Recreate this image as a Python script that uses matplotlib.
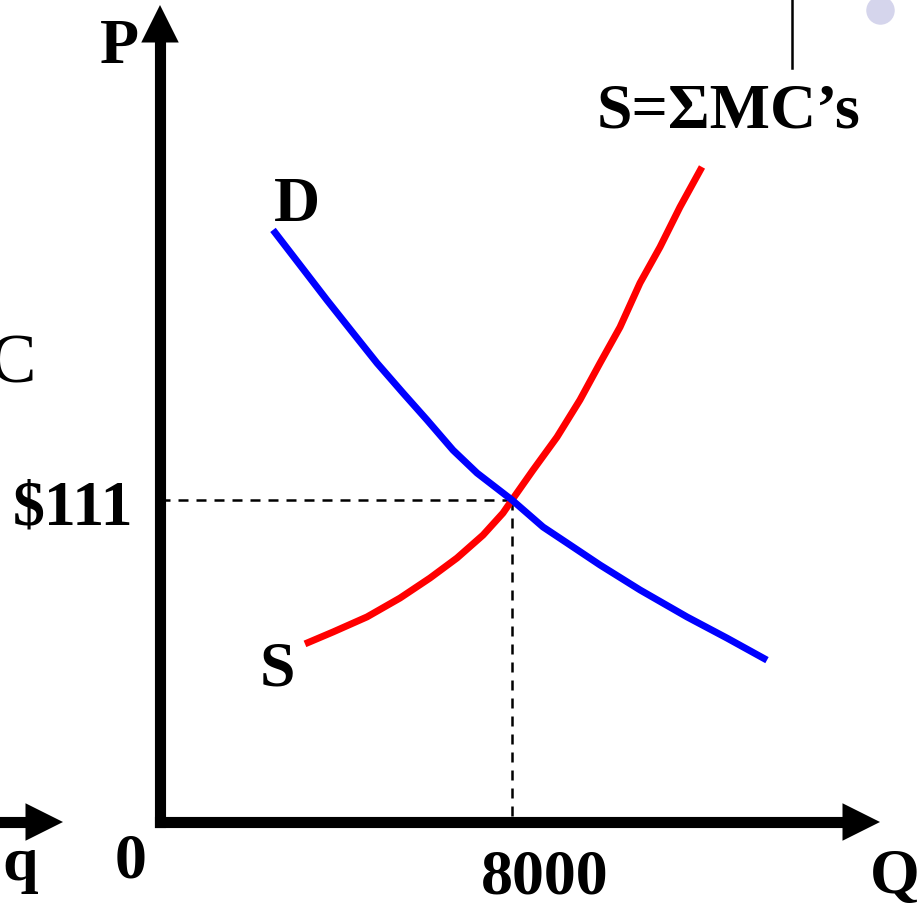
import numpy as np
import matplotlib.pyplot as plt

# Curvas de demanda y oferta (Q, P)
d_q = [2568, 3182, 3795, 4386, 4932, 5523, 6068, 6659, 7205, 8000,
       8705, 9250, 10000, 10909, 11977, 12886, 13795]
d_p = [204.1, 192.0, 179.9, 168.6, 158.2, 147.9, 138.6, 128.2, 120.3, 111.0,
       101.7, 96.2, 88.6, 80.0, 70.7, 63.4, 55.8]
s_q = [3295, 3932, 4705, 5455, 6136, 6750, 7341, 7795, 8000,
       8477, 9023, 9545, 10000, 10455, 10909, 11364, 11818, 12318]
s_p = [61.4, 65.5, 70.7, 77.2, 84.1, 91.0, 98.9, 106.5, 111.0,
       121.3, 132.7, 145.5, 158.2, 170.6, 185.8, 198.2, 212.0, 225.8]

q_eq = 8000
p_eq = 111
q_ticks = [0, q_eq]
q_labels = ["0", "8000"]
q_offsets = [(-29, -55), (33, -71)]  # pixeles

W, H = 923, 905
# escala: pixeles -> datos
QPX = 8000 / 352
PPX = 111 / 322
X0, Y0 = 160, 822


def px(x, y):
    return x / W, 1 - y / H


fig = plt.figure(figsize=(W / 100, H / 100), dpi=100)
ax = fig.add_axes([0, 0, 1, 1])
ax.set_xlim(-X0 * QPX, (W - X0) * QPX)
ax.set_ylim((Y0 - H) * PPX, Y0 * PPX)
ax.axis("off")

font = dict(family="Liberation Serif", fontweight="bold", fontsize=46)

# ejes con flechas
p_top = (Y0 - 5) * PPX
p_base = (Y0 - 42) * PPX
q_end = (880 - X0) * QPX
q_base = (844 - X0) * QPX
ax.plot([0, 0], [0, p_base], color="black", lw=8, solid_capstyle="projecting", zorder=5)
ax.plot([0, q_base], [0, 0], color="black", lw=8, solid_capstyle="projecting", zorder=5)
head = dict(arrowstyle="-|>,head_length=27,head_width=13.5", lw=0, fc="black",
            ec="black", mutation_scale=1, shrinkA=0, shrinkB=0)
ax.annotate("", xy=(0, p_top), xytext=(0, p_base - 10), arrowprops=head, zorder=6)
ax.annotate("", xy=(q_end, 0), xytext=(q_base - 500, 0), arrowprops=head, zorder=6)

# flecha del grafico de la izquierda (q)
ax.plot([-X0 * QPX, (28 - X0) * QPX], [0, 0], color="black", lw=8, zorder=5)
ax.annotate("", xy=((63 - X0) * QPX, 0), xytext=((20 - X0) * QPX, 0), arrowprops=head, zorder=6)

# lineas punteadas del equilibrio
ax.plot([0, q_eq], [p_eq, p_eq], color="black", lw=1.8, dashes=(4, 3.2), zorder=2)
ax.plot([q_eq, q_eq], [p_eq, 0], color="black", lw=1.8, dashes=(4, 3.2), zorder=2)

ax.plot(s_q, s_p, color="#ff0000", lw=5, solid_capstyle="butt",
        solid_joinstyle="round", zorder=3)
ax.plot(d_q, d_p, color="#0000ff", lw=5, solid_capstyle="butt",
        solid_joinstyle="round", zorder=4)

# textos
ax.text(*px(119, 63), "P", transform=ax.transAxes, ha="center", va="baseline", **font)
ax.text(*px(297, 221), "D", transform=ax.transAxes, ha="center", va="baseline", **font)
ax.text(*px(277, 686), "S", transform=ax.transAxes, ha="center", va="baseline", **font)
ax.text(*px(728, 127), "S=\u03a3MC\u2019s", transform=ax.transAxes, ha="center", va="baseline", **font)
ax.annotate("$" + str(p_eq), xy=(0, p_eq), xytext=(-27, -24), textcoords="offset pixels",
            ha="right", va="baseline", **font)
for qv, lab, off in zip(q_ticks, q_labels, q_offsets):
    ax.annotate(lab, xy=(qv, 0), xytext=off, textcoords="offset pixels",
                ha="center", va="baseline", **font)
ax.text(*px(870, 893), "Q", transform=ax.transAxes, ha="left", va="baseline", **font)
ax.text(*px(2, 880), "q", transform=ax.transAxes, ha="left", va="baseline", **font)
ax.text(*px(35, 382), "C", transform=ax.transAxes, ha="right", va="baseline",
        family="Liberation Serif", fontsize=50)

# restos de la diapositiva
ax.plot(*zip(px(792, 0), px(792, 68)), color="black", lw=1.8, transform=ax.transAxes)
ax.scatter(*px(880, 10), s=380, color="#d5d5ec", transform=ax.transAxes, zorder=1)

fig.savefig("out.png", dpi=100)
